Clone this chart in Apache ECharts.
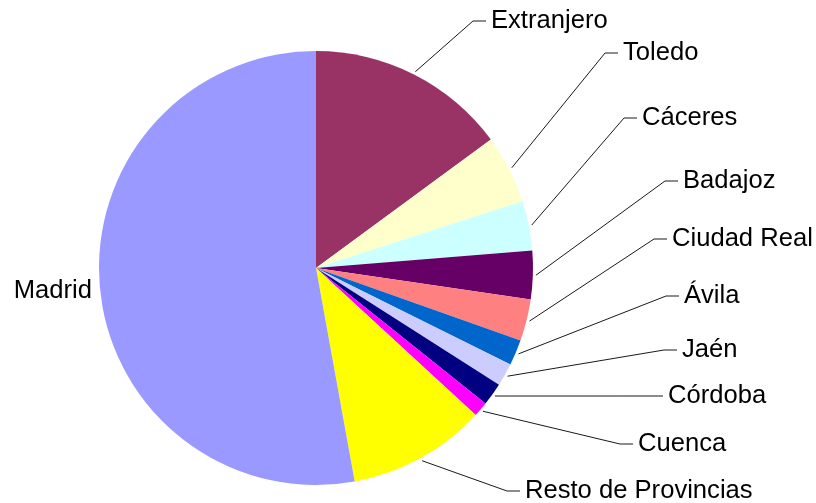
<!DOCTYPE html>
<html>
<head>
<meta charset="utf-8">
<script src="https://cdn.jsdelivr.net/npm/echarts@6/dist/echarts.min.js"></script>
<style>
html, body {margin: 0; padding: 0; background: #ffffff;}
#chart {width: 816px; height: 503px;}
</style>
</head>
<body>
<div id="chart"></div>
<script>
// datos (porcentaje aproximado de cada procedencia)
var provincias = ["Extranjero", "Toledo", "Cáceres", "Badajoz", "Ciudad Real", "Ávila", "Jaén", "Córdoba", "Cuenca", "Resto de Provincias", "Madrid"];
var porcentajes = [14.9, 5.1, 3.7, 3.6, 3.1, 1.9, 1.7, 1.7, 1.1, 10.3, 52.8];
var colores = ["#993366", "#FFFFCC", "#CCFFFF", "#660066", "#FF8080", "#0066CC", "#CCCCFF", "#000080", "#FF00FF", "#FFFF00", "#9999FF"];

// donde empieza el texto de cada etiqueta (Madrid: donde acaba)
var posEtiquetas = [[491, 21], [623, 53], [642, 118], [683, 181], [672, 239], [684, 296], [682, 350], [668, 396], [638, 444], [525, 491], [92, 291]];
var centro = [316, 268];

var datos = provincias.map(function (nombre, i) {
	var d = {name: nombre, value: porcentajes[i], itemStyle: {color: colores[i]}};
	if (nombre == "Madrid") {
		d.labelLine = {show: false};
	}
	return d;
});

var myChart = echarts.init(document.getElementById("chart"));
var tarta = {
	backgroundColor: "#ffffff",
	animation: false,
	series: [{
		name: "Procedencia",
		type: "pie",
		center: centro,
		radius: 217,
		startAngle: 90,
		clockwise: true,
		avoidLabelOverlap: false,
		itemStyle: {borderWidth: 0},
		label: {show: true, position: "outside", color: "#000000", fontSize: 25.6, fontFamily: "Liberation Sans"},
		labelLine: {show: true, lineStyle: {color: "#1a1a1a", width: 1}},
		emphasis: {disabled: true},
		data: datos,
		labelLayout: function (params) {
			var i = params.dataIndex;
			var pos = posEtiquetas[i];
			if (provincias[i] == "Madrid") {
				return {x: pos[0], y: pos[1], align: "right", verticalAlign: "middle"};
			}
			var out = {x: pos[0], y: pos[1], align: "left", verticalAlign: "middle"};
			if (params.labelLinePoints) {
				var p = params.labelLinePoints[0];
				var dx = p[0] - centro[0], dy = p[1] - centro[1];
				var len = Math.sqrt(dx * dx + dy * dy);
				var p0 = [p[0] + dx / len * 3, p[1] + dy / len * 3];
				out.labelLinePoints = [p0, [pos[0] - 18, pos[1]], [pos[0] - 5, pos[1]]];
			}
			return out;
		}
	}]
};
myChart.setOption(tarta);
</script>
</body>
</html>
